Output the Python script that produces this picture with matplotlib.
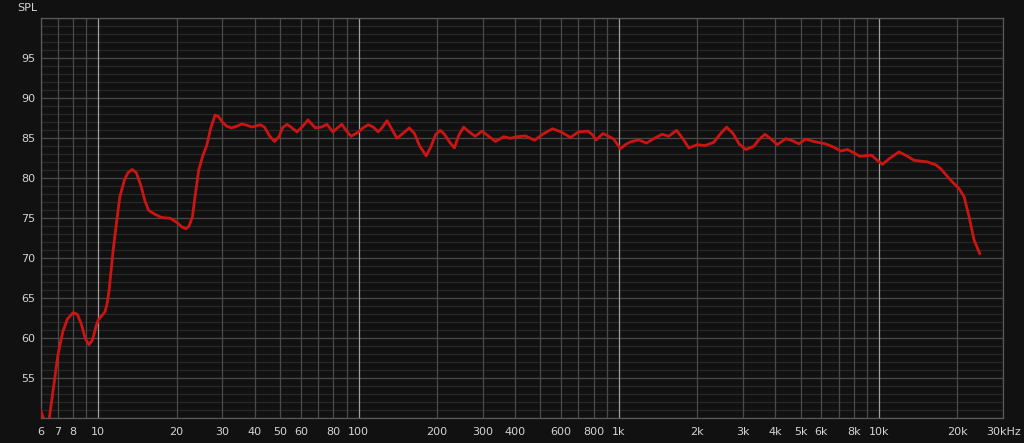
import matplotlib
matplotlib.use("Agg")
import matplotlib.pyplot as plt
import numpy as np

# frequency response (Hz, dB SPL)
freq = [6, 6.15, 6.3, 6.48, 6.7, 7.0, 7.3, 7.6, 8.0, 8.3, 8.6, 8.9, 9.2, 9.5, 9.8,
        10.0, 10.3, 10.6, 10.8, 11.0, 11.4, 11.8, 12.1, 12.6, 13.0, 13.5, 14.0, 14.6,
        15.1, 15.6, 16.5, 17.5, 18.9, 20.0, 21.0, 21.7, 22.3, 23.0, 23.6, 24.3, 25.2,
        26.1, 27.0, 28.1, 29.0, 30.0, 31.2, 32.5, 34.0, 35.6, 37.5, 38.9, 41.9, 43.5,
        45.5, 47.5, 49.5, 51.0, 53.1, 55.5, 58.0, 61.0, 63.9, 66.0, 68.2, 72.0, 75.6,
        79.7, 83.0, 86.3, 89.5, 93.7, 100, 104, 109, 114, 119, 123, 128.6, 134, 140.5,
        148, 156.7, 164, 172, 182, 190, 198, 206, 214, 224, 233.5, 243, 253.5, 266,
        281, 298, 315, 336, 361, 383, 407, 438, 475, 510, 557, 600, 652, 700, 760,
        790, 819, 870, 920, 957, 1015, 1060, 1109, 1194, 1278, 1370, 1469, 1557, 1667,
        1760, 1859, 2003, 2150, 2319, 2450, 2596, 2750, 2900, 3073, 3305, 3450, 3645,
        3850, 4067, 4381, 4650, 4924, 5227, 5625, 6240, 6700, 7122, 7563, 8000, 8450,
        9373, 9800, 10310, 11000, 11940, 12800, 13630, 15350, 16500, 17270, 18880,
        20320, 21240, 22200, 23220, 24390]
spl = [51.0, 50.0, 49.4, 50.0, 53.5, 58.0, 60.8, 62.4, 63.2, 63.0, 61.8, 60.0, 59.2, 59.8, 61.5,
       62.3, 62.8, 63.3, 64.3, 66.0, 71.0, 75.0, 77.7, 79.8, 80.7, 81.1, 80.7, 79.0,
       77.2, 76.0, 75.5, 75.1, 75.0, 74.5, 73.9, 73.7, 74.0, 75.2, 78.0, 81.0, 82.8,
       84.1, 86.2, 87.9, 87.7, 87.0, 86.5, 86.3, 86.5, 86.8, 86.6, 86.4, 86.7, 86.4,
       85.3, 84.6, 85.2, 86.3, 86.75, 86.3, 85.8, 86.5, 87.3, 86.8, 86.3, 86.4, 86.75,
       85.8, 86.3, 86.75, 86.0, 85.25, 85.8, 86.3, 86.7, 86.4, 85.8, 86.3, 87.2, 86.2, 85.0,
       85.6, 86.3, 85.6, 84.0, 82.8, 84.0, 85.5, 86.0, 85.5, 84.5, 83.8, 85.4, 86.4, 85.8,
       85.25, 85.9, 85.3, 84.6, 85.2, 85.0, 85.2, 85.3, 84.75, 85.5, 86.2, 85.8, 85.1, 85.8, 85.9,
       85.5, 84.8, 85.6, 85.2, 84.9, 83.7, 84.2, 84.55, 84.8, 84.4, 85.0, 85.5, 85.25, 86.0,
       85.0, 83.8, 84.2, 84.1, 84.5, 85.5, 86.4, 85.6, 84.3, 83.6, 84.0, 84.8, 85.5,
       84.9, 84.2, 84.95, 84.7, 84.3, 84.9, 84.6, 84.3, 83.9, 83.4, 83.6, 83.2, 82.75,
       82.9, 82.3, 81.75, 82.5, 83.3, 82.8, 82.25, 82.05, 81.7, 81.2, 79.75,
       78.7, 77.7, 75.2, 72.25, 70.6]

decades = [10, 100, 1000, 10000]
decade_labels = ["10", "100", "1k", "10k"]
minor_freqs = [6, 7, 8, 9, 20, 30, 40, 50, 60, 70, 80, 90,
               200, 300, 400, 500, 600, 700, 800, 900,
               2000, 3000, 4000, 5000, 6000, 7000, 8000, 9000, 20000, 30000]
minor_labels = ["6", "7", "8", "", "20", "30", "40", "50", "60", "", "80", "",
                "200", "300", "400", "", "600", "", "800", "",
                "2k", "3k", "4k", "5k", "6k", "", "8k", "", "20k", "30kHz"]
y_major = [50, 55, 60, 65, 70, 75, 80, 85, 90, 95, 100]
y_labels = ["", "55", "60", "65", "70", "75", "80", "85", "90", "95", ""]

bg = "#111111"
txt = "#d4d4d4"

fig = plt.figure(figsize=(10.24, 4.43), dpi=100, facecolor=bg)
ax = fig.add_axes([40.6 / 1024, 24.7 / 443, 962.5 / 1024, 400 / 443])
ax.set_facecolor(bg)

ax.set_xscale("log")
ax.set_xlim(6, 30000)
ax.set_ylim(50, 100)

ax.set_xticks(decades)
ax.set_xticklabels(decade_labels)
ax.set_xticks(minor_freqs, minor=True)
ax.set_xticklabels(minor_labels, minor=True)
ax.set_yticks(y_major)
ax.set_yticklabels(y_labels)
ax.set_yticks(np.arange(50, 101, 1), minor=True)

ax.tick_params(axis="both", which="both", length=0, colors=txt, labelsize=8)
ax.tick_params(axis="x", which="both", pad=6)
ax.tick_params(axis="y", which="both", pad=4)

ax.grid(axis="x", which="minor", color="#4a4a4a", lw=0.9)
ax.grid(axis="y", which="major", color="#4a4a4a", lw=0.9)
ax.grid(axis="y", which="minor", color="#282828", lw=0.9)
ax.set_axisbelow(True)
# horizontal grid underneath the vertical one
ax.yaxis.set_zorder(0.3)
ax.xaxis.set_zorder(0.6)
# brighter decade lines on top
for d in decades:
    ax.axvline(d, color="#a0a0a0", lw=0.9, zorder=1.5)
for s in ax.spines.values():
    s.set_color("#5a5a5a")
    s.set_linewidth(0.9)

ax.plot(freq, spl, color="#cc1512", lw=2.0, solid_joinstyle="round", zorder=3)

fig.text(37 / 1024, 1 - 8 / 443, "SPL", color=txt, fontsize=8, ha="right", va="center")

fig.savefig("out.png", dpi=100, facecolor=bg)
